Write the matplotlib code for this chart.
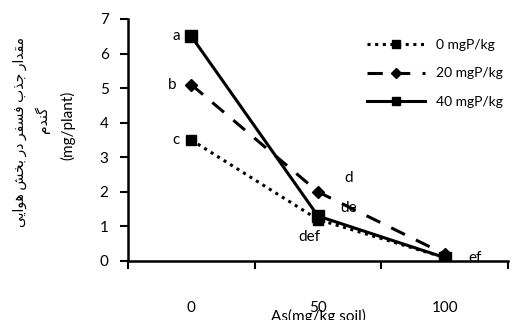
import numpy as np
import matplotlib
matplotlib.use('Agg')
from matplotlib import pyplot as plt

# data
categories = ['0', '50', '100']
series_names = ['0 mgP/kg', '20 mgP/kg', '40 mgP/kg']
p0 = [3.5, 1.2, 0.1]
p20 = [5.1, 2.0, 0.2]
p40 = [6.5, 1.3, 0.1]
letters = ['a', 'b', 'c', 'd', 'de', 'def', 'ef']
ylabel_fa = 'مقدار جذب فسفر در بخش هوایی'
ylabel_fa2 = 'گندم'

# arabic shaping by hand (matplotlib does no shaping / bidi)
FORMS = {
    'ا': ('\uFE8D', '\uFE8E', None, None),
    'د': ('\uFEA9', '\uFEAA', None, None),
    'ذ': ('\uFEAB', '\uFEAC', None, None),
    'ر': ('\uFEAD', '\uFEAE', None, None),
    'و': ('\uFEED', '\uFEEE', None, None),
    'ب': ('\uFE8F', '\uFE90', '\uFE91', '\uFE92'),
    'ج': ('\uFE9D', '\uFE9E', '\uFE9F', '\uFEA0'),
    'خ': ('\uFEA5', '\uFEA6', '\uFEA7', '\uFEA8'),
    'س': ('\uFEB1', '\uFEB2', '\uFEB3', '\uFEB4'),
    'ش': ('\uFEB5', '\uFEB6', '\uFEB7', '\uFEB8'),
    'ف': ('\uFED1', '\uFED2', '\uFED3', '\uFED4'),
    'ق': ('\uFED5', '\uFED6', '\uFED7', '\uFED8'),
    'م': ('\uFEE1', '\uFEE2', '\uFEE3', '\uFEE4'),
    'ن': ('\uFEE5', '\uFEE6', '\uFEE7', '\uFEE8'),
    'ه': ('\uFEE9', '\uFEEA', '\uFEEB', '\uFEEC'),
    'ی': ('\uFBFC', '\uFBFD', '\uFBFE', '\uFBFF'),
    'گ': ('\uFB92', '\uFB93', '\uFB94', '\uFB95'),
}


def shape(txt):
    out = []
    for i, ch in enumerate(txt):
        if ch not in FORMS:
            out.append(ch)
            continue
        prev = txt[i - 1] if i > 0 else ' '
        nxt = txt[i + 1] if i < len(txt) - 1 else ' '
        join_prev = prev in FORMS and FORMS[prev][2] is not None
        join_next = nxt in FORMS and FORMS[ch][2] is not None
        f = FORMS[ch]
        if join_prev and join_next:
            out.append(f[3])
        elif join_prev:
            out.append(f[1])
        elif join_next:
            out.append(f[2])
        else:
            out.append(f[0])
    return ''.join(out)[::-1]


fam = ['Lato', 'DejaVu Sans']
plt.rcParams['font.family'] = fam

fig = plt.figure(figsize=(5.21, 3.2), dpi=100)
ax = fig.add_axes([128 / 521, 1 - 261 / 320, 380 / 521, 242 / 320])

x = np.arange(len(categories))
ax.plot(x, p0, color='black', lw=2.2, ls=(0, (1, 1.5)), marker='s', ms=7, label=series_names[0])
ax.plot(x, p20, color='black', lw=2.2, ls=(0, (5, 4)), marker='D', ms=6.5, label=series_names[1])
ax.plot(x, p40, color='black', lw=2.2, ls='-', marker='s', ms=8, label=series_names[2])

# letters of mean comparison
ax.text(-0.12, 6.5, letters[0], fontsize=11, ha='center', va='center')
ax.text(-0.15, 5.1, letters[1], fontsize=11, ha='center', va='center')
ax.text(-0.12, 3.5, letters[2], fontsize=11, ha='center', va='center')
ax.text(1.24, 2.4, letters[3], fontsize=11, ha='center', va='center')
ax.text(1.24, 1.52, letters[4], fontsize=11, ha='center', va='center')
ax.text(0.93, 0.68, letters[5], fontsize=11, ha='center', va='center')
ax.text(2.24, 0.1, letters[6], fontsize=11, ha='center', va='center')

ax.set_xlim(-0.5, 2.5)
ax.set_ylim(0, 7)
ax.set_yticks(range(8))
ax.set_xticks([-0.5, 0.5, 1.5, 2.5])
ax.set_xticklabels([])
ax.set_xticks(x, minor=True)
ax.set_xticklabels(categories, minor=True)
ax.tick_params(axis='x', which='minor', length=0, pad=29, labelsize=11)
ax.tick_params(axis='x', which='major', length=6, width=1.5, direction='out')
ax.tick_params(axis='y', length=6, width=1.5, direction='out', labelsize=11, pad=8)
for s in ['top', 'right']:
    ax.spines[s].set_visible(False)
for s in ['left', 'bottom']:
    ax.spines[s].set_linewidth(1.8)

leg = ax.legend(loc='upper right', frameon=False, fontsize=10, handlelength=4.2,
                bbox_to_anchor=(1.02, 0.97), labelspacing=1.2, markerscale=0.8)

fig.text(318 / 521, 1 - 316 / 320, 'As(mg/kg soil)', ha='center', va='center', fontsize=11)

fig.text(20 / 521, 1 - 132 / 320, shape(ylabel_fa), rotation=90, ha='center', va='center', fontsize=10)
fig.text(42 / 521, 1 - 120 / 320, shape(ylabel_fa2), rotation=90, ha='center', va='center', fontsize=10)
fig.text(68 / 521, 1 - 125 / 320, '(mg/plant)', rotation=90, ha='center', va='center', fontsize=11)

fig.savefig('out.png', dpi=100)
